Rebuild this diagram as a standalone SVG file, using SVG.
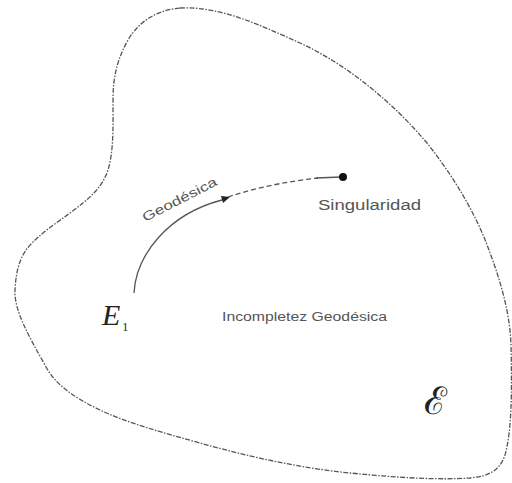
<svg xmlns="http://www.w3.org/2000/svg" width="512" height="483" viewBox="0 0 512 483">
<style>
.outline{fill:none;stroke:#555;stroke-width:1.3;stroke-dasharray:5,1.5,1.5,1.5}
.geo{fill:none;stroke:#555;stroke-width:1.3}
.lbl{font-family:"Liberation Sans",Arial,sans-serif;fill:#555}
</style>
<rect width="512" height="483" fill="#fff"/>
<g id="region">
<path class="outline" d="M180,8 C220,6 260,25 300,43 C350,66 395,105 427,143 C455,178 478,218 490,253 C502,285 510,315 511,345 C512,390 512,430 505,455 C500,470 490,476 470,478 C440,480 400,478 350,473 C300,468 250,457 200,443 C160,432 125,422 100,410 C75,398 55,385 45,365 C28,335 14,310 15,290 C16,270 20,255 32,243 C45,230 58,222 70,213 C90,198 102,188 108,170 C114,150 113,125 113,100 C113,75 118,58 128,40 C140,20 158,10 180,8 Z"/>
</g>
<g id="connectors">
<path class="geo" d="M134,293 C136,255 168,214 222,200"/>
<polygon points="230,197 221,196 223,203" fill="#222"/>
<path class="geo" d="M228,197 C258,187 290,181 318,178" stroke-dasharray="5,3"/>
<path class="geo" d="M316,178 L341,177" stroke="#333"/>
</g>
<g id="singularidad">
<circle cx="343" cy="177" r="4" fill="#111"/>
<text class="lbl" x="318" y="210" font-size="14" textLength="103" lengthAdjust="spacingAndGlyphs">Singularidad</text>
</g>
<g id="geodesica">
<text class="lbl" x="145" y="222" font-size="13" textLength="82" lengthAdjust="spacingAndGlyphs" transform="rotate(-27 145 222)">Geodésica</text>
</g>
<g id="incompletez">
<text class="lbl" x="222" y="321" font-size="12" fill="#666" textLength="165" lengthAdjust="spacingAndGlyphs">Incompletez Geodésica</text>
</g>
<g id="E1">
<text x="102" y="325" font-family="Liberation Serif,serif" font-style="italic" font-size="30" fill="#222">E<tspan font-size="12" font-style="normal" dx="2" dy="6">1</tspan></text>
</g>
<g id="script-E">
<text x="424" y="414" font-family="DejaVu Serif,serif" font-size="38" fill="#222">ℰ</text>
</g>
</svg>
